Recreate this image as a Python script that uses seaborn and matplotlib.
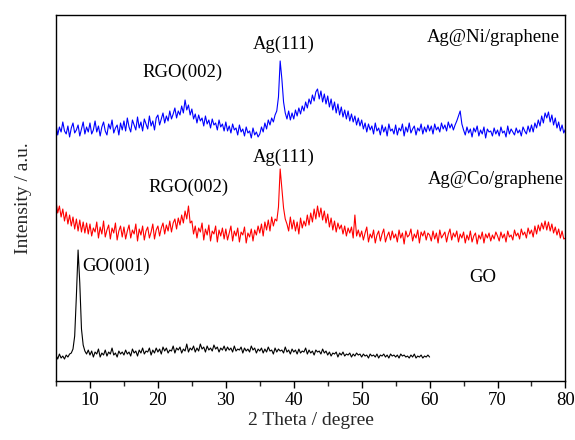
import numpy as np
import pandas as pd
import matplotlib
matplotlib.use("Agg")
import matplotlib.pyplot as plt
import seaborn as sns

# ---- data (intensity in arbitrary units, step 0.25 degree) ----
ni_start = 5.0
co_start = 5.0
go_start = 5.0
step = 0.25

ag_ni = [
    257,246,254,249,259,250,247,255,244,253,258,248,251,256,245,252,259,247,254,249,
    258,247,251,260,249,255,245,254,259,250,246,257,252,261,248,253,256,246,258,251,
    260,250,263,254,249,261,256,251,264,253,259,250,262,257,252,265,255,260,251,263,
    266,256,262,268,258,265,260,270,262,267,273,263,270,266,275,268,281,271,276,266,
    272,262,267,258,266,260,263,255,265,257,261,253,262,256,258,251,261,254,257,250,
    259,250,255,248,257,251,253,246,256,249,252,245,254,248,250,243,253,246,249,244,
    247,254,249,258,252,261,256,263,259,266,270,284,320,302,279,268,262,270,261,268,
    262,271,265,273,267,275,270,279,273,282,277,286,280,289,292,282,290,279,287,277,
    285,274,282,271,279,268,277,266,274,264,271,262,270,260,267,259,265,256,263,255,
    261,252,258,249,257,251,255,247,258,250,253,246,256,249,254,245,257,250,252,247,
    256,246,253,250,257,245,254,249,258,248,252,255,246,253,250,257,247,254,249,256,
    250,255,247,257,251,254,249,258,252,256,250,259,253,257,251,256,260,265,270,257,
    251,246,254,248,252,244,253,249,255,245,251,247,254,243,252,249,250,245,253,247,
    251,245,254,248,250,244,255,247,252,249,246,253,248,251,245,254,250,247,255,249,
    256,249,258,253,261,255,265,258,268,263,269,259,266,256,263,253,259,250,256,248,
    252,
]

ag_co = [
    180,168,175,164,172,160,169,157,166,155,164,152,162,150,161,149,159,148,158,147,
    157,145,153,149,159,143,154,147,160,144,151,156,142,153,148,158,141,150,155,144,
    154,142,150,156,143,151,147,157,140,152,146,155,141,150,154,143,149,157,142,151,
    155,145,153,158,147,156,150,160,149,158,162,152,163,156,166,158,170,162,175,158,
    160,147,155,143,153,149,158,141,152,146,156,140,150,147,155,139,151,145,153,142,
    152,141,148,155,140,150,145,153,139,149,146,154,138,148,144,152,140,151,146,155,
    148,157,145,159,151,161,150,164,155,162,160,174,212,193,173,162,157,150,164,152,
    161,150,159,147,163,153,160,155,166,156,168,159,172,162,175,164,173,161,170,158,
    167,154,163,151,160,149,158,152,156,147,155,145,153,148,154,143,166,145,151,144,
    150,141,148,154,139,147,143,151,138,146,150,140,147,152,139,145,149,141,150,143,
    147,139,151,143,148,137,150,144,146,152,140,147,143,151,138,149,145,150,141,148,
    146,140,150,142,148,138,151,143,146,149,139,147,152,141,148,144,150,139,147,143,
    149,138,146,141,150,139,145,148,137,146,142,149,138,147,143,148,140,146,142,149,
    145,140,149,143,147,139,150,144,146,141,151,145,148,142,152,146,149,143,153,147,
    151,144,155,147,156,150,158,152,160,151,159,150,157,148,154,146,152,143,150,142,
    143,
]

go = [
    26,22,27,23,25,22,26,24,27,28,32,45,85,131,98,52,36,30,27,31,
    26,30,24,29,27,32,24,28,26,31,25,29,27,33,26,28,24,30,27,29,
    26,31,27,29,25,32,28,30,25,31,28,33,27,30,29,33,26,31,28,33,
    29,32,27,34,30,33,28,31,30,35,28,33,31,34,28,32,30,37,29,33,
    31,35,29,33,30,37,32,34,29,35,31,33,30,36,32,34,29,33,31,35,
    30,34,31,33,29,35,30,32,31,34,28,33,30,32,29,35,31,33,28,32,
    30,33,28,32,29,34,30,31,27,33,29,32,30,31,28,34,29,31,27,32,
    29,31,27,32,28,30,29,33,27,31,28,30,26,31,29,30,27,32,28,30,
    26,29,25,28,27,29,24,28,26,29,25,27,26,28,24,27,25,28,26,27,
    24,27,25,26,23,27,25,26,24,27,23,26,25,27,24,26,23,27,25,26,
    24,26,23,27,25,26,24,25,23,26,24,27,23,25,24,26,23,25,24,26,
    24,
]

series_names = ["Ag@Ni/graphene", "Ag@Co/graphene", "GO"]
series_colors = ["#0000FF", "#FF0000", "#000000"]

annotations = [
    ("Ag@Ni/graphene", 69.4, 343),
    ("RGO(002)", 23.6, 309),
    ("Ag(111)", 38.6, 337),
    ("Ag(111)", 38.5, 224),
    ("RGO(002)", 24.5, 194),
    ("Ag@Co/graphene", 69.7, 201),
    ("GO(001)", 13.0, 115),
    ("GO", 67.8, 104),
]

x_ticks = [10, 20, 30, 40, 50, 60, 70, 80]
x_minor = [5, 15, 25, 35, 45, 55, 65, 75]

# ---- build table ----
frames = []
for name, vals, a in [(series_names[0], ag_ni, ni_start),
                      (series_names[1], ag_co, co_start),
                      (series_names[2], go, go_start)]:
    xs = a + step * np.arange(len(vals))
    frames.append(pd.DataFrame({"theta": xs, "intensity": vals, "sample": name}))
df = pd.concat(frames, ignore_index=True)

sns.set_style("ticks")
plt.rcParams["font.family"] = ["Liberation Serif", "DejaVu Serif"]

fig = plt.figure(figsize=(5.75, 4.4), dpi=100)
ax = fig.add_axes([0.0974, 0.134, 0.886, 0.832])

sns.lineplot(data=df, x="theta", y="intensity", hue="sample",
             palette=dict(zip(series_names, series_colors)),
             hue_order=series_names, linewidth=0.8, legend=False,
             estimator=None, sort=True, ax=ax)

ax.set_xlim(5, 80)
ax.set_ylim(0, 366)
ax.set_xticks(x_ticks)
ax.set_xticks(x_minor, minor=True)
ax.set_yticks([])
ax.tick_params(axis="x", which="major", direction="out", length=5, width=1,
               labelsize=13.5, pad=3, colors="black")
ax.tick_params(axis="x", which="minor", direction="out", length=3.5, width=1)
for s in ax.spines.values():
    s.set_visible(True)
    s.set_color("black")
    s.set_linewidth(1.0)

ax.set_xlabel("2 Theta / degree", fontsize=14, labelpad=2)
ax.set_ylabel("Intensity / a.u.", fontsize=14, labelpad=17)

for txt, x, y in annotations:
    if txt == "GO(001)":
        ax.text(8.9, y, txt, fontsize=13.5, ha="left", va="center", color="black")
    else:
        ax.text(x, y, txt, fontsize=13.5, ha="center", va="center", color="black")

fig.savefig("out.png", dpi=100)
